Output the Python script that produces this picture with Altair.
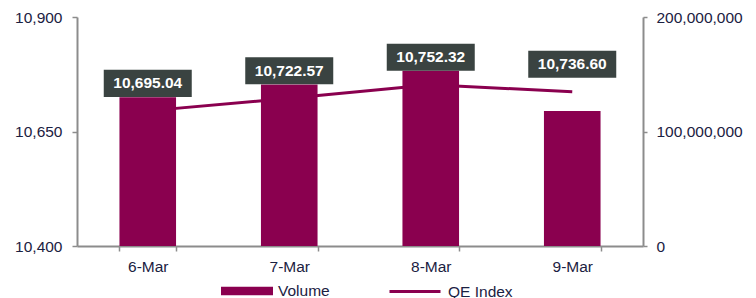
import altair as alt
import pandas as pd

dates = ["6-Mar", "7-Mar", "8-Mar", "9-Mar"]
volume = [130_000_000, 141_000_000, 153_000_000, 118_000_000]
qe_index = [10695.04, 10722.57, 10752.32, 10736.60]

df = pd.DataFrame({"date": dates, "volume": volume, "qe": qe_index})

MAROON = "#8a004f"
BOX = "#3a4341"
NAVY = "#1b2142"
GRAY = "#8c8c8c"
FONT = "Liberation Sans"

xenc = alt.X(
    "date:N",
    sort=dates,
    scale=alt.Scale(paddingInner=0.6, paddingOuter=0.3),
    axis=alt.Axis(title=None, labelAngle=0, tickBand="extent", tickSize=5, labelPadding=8),
)
qe_scale = alt.Scale(domain=[10400, 10900], nice=False, zero=False)

base = alt.Chart(df)

line = base.transform_calculate(s2="'QE Index'").mark_line(strokeWidth=3).encode(
    x=xenc,
    y=alt.Y(
        "qe:Q",
        scale=qe_scale,
        axis=alt.Axis(orient="left", values=[10400, 10650, 10900], format=",.0f",
                      title=None, grid=False, tickSize=5, labelPadding=10),
    ),
    stroke=alt.Stroke(
        "s2:N",
        scale=alt.Scale(domain=["QE Index"], range=[MAROON]),
        legend=alt.Legend(title=None, orient="none", legendX=311, legendY=247.5,
                          symbolType="stroke", symbolSize=2601, symbolStrokeWidth=3,
                          labelOffset=6, padding=0),
    ),
)

bars = base.transform_calculate(s1="'Volume'").mark_bar().encode(
    x=xenc,
    y=alt.Y(
        "volume:Q",
        scale=alt.Scale(domain=[0, 200_000_000], nice=False),
        axis=alt.Axis(orient="right", values=[0, 100_000_000, 200_000_000], format=",.0f",
                      title=None, grid=False, tickSize=4, labelPadding=9),
    ),
    fill=alt.Fill(
        "s1:N",
        scale=alt.Scale(domain=["Volume"], range=[MAROON]),
        legend=alt.Legend(title=None, orient="none", legendX=144, legendY=248,
                          symbolType="M-1,-0.16L1,-0.16L1,0.16L-1,0.16Z", symbolSize=2704,
                          symbolStrokeWidth=0, labelOffset=5, padding=0),
    ),
)

boxes = base.mark_point(
    shape="M-1,-0.307L1,-0.307L1,0.307L-1,0.307Z",
    size=7744, filled=True, fill=BOX, opacity=1, strokeWidth=0, yOffset=-27.5,
).encode(
    x=xenc,
    y=alt.Y("qe:Q", scale=qe_scale, axis=None),
)

labels = base.mark_text(
    color="white", fontWeight="bold", fontSize=15.5, font=FONT, yOffset=-27.5,
    baseline="middle", align="center",
).encode(
    x=xenc,
    y=alt.Y("qe:Q", scale=qe_scale, axis=None),
    text=alt.Text("qe:Q", format=",.2f"),
)

chart = (
    alt.layer(line, bars, boxes, labels)
    .resolve_scale(y="independent")
    .properties(
        width=566, height=229,
        autosize=alt.AutoSizeParams(type="none"),
        padding={"left": 69, "top": 9, "right": 105, "bottom": 52},
    )
    .configure_view(stroke=None)
    .configure_axis(domainColor=GRAY, domainWidth=2, tickColor=GRAY, tickWidth=1.5,
                    labelColor=NAVY, labelFont=FONT, labelFontSize=15.5)
    .configure_legend(labelFont=FONT, labelFontSize=15.5, labelColor=NAVY)
)

chart.save("out.html", embed_options={"renderer": "svg", "actions": False})
